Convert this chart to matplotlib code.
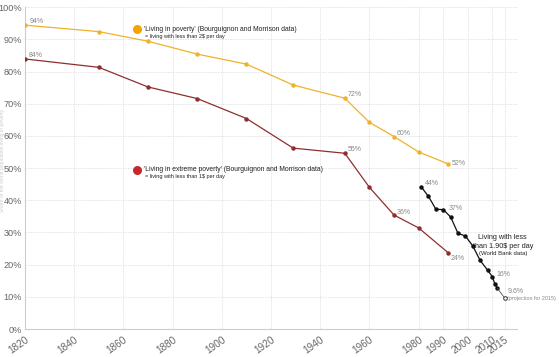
import matplotlib
matplotlib.use("Agg")
import matplotlib.pyplot as plt
from matplotlib.ticker import FuncFormatter

plt.rcParams["font.family"] = ["Liberation Sans", "DejaVu Sans"]

# Bourguignon and Morrison data
bm_years = [1820, 1850, 1870, 1890, 1910, 1929, 1950, 1960, 1970, 1980, 1992]
poverty = [94.4, 92.4, 89.4, 85.4, 82.3, 75.8, 71.7, 64.2, 59.8, 55.0, 51.3]
extreme = [83.9, 81.3, 75.2, 71.6, 65.4, 56.2, 54.6, 44.0, 35.4, 31.4, 23.7]

# World Bank data (< 1.90$ per day)
wb_years = [1981, 1984, 1987, 1990, 1993, 1996, 1999, 2002, 2005, 2008, 2010, 2011, 2012]
wb_values = [44.2, 41.2, 37.2, 37.1, 34.8, 29.7, 28.9, 25.8, 21.3, 18.3, 16.2, 13.9, 12.6]
proj_year = 2015
proj_value = 9.6

x_ticks = [1820, 1840, 1860, 1880, 1900, 1920, 1940, 1960, 1980, 1990, 2000, 2010, 2015]

yellow = "#efb22a"
red = "#8e2f2f"

fig = plt.figure(figsize=(5.59, 3.57), dpi=100)
ax = fig.add_axes([0.0447, 0.0784, 0.8803, 0.9016])

ax.plot(bm_years, poverty, color=yellow, lw=0.9, marker="o", ms=2.2, zorder=3)
ax.plot(bm_years, extreme, color=red, lw=0.9, marker="o", ms=2.2, zorder=3)
ax.plot(wb_years, wb_values, color="#111111", lw=0.9, marker="o", ms=2.2, zorder=3)
ax.plot([wb_years[-1], proj_year], [wb_values[-1], proj_value], color="#555555", lw=0.6, zorder=3)
ax.plot([proj_year], [proj_value], marker="o", ms=2.6, mfc="white", mec="#333333", mew=0.7, zorder=4)

ax.set_xlim(1820, 2020)
ax.set_ylim(0, 100)
ax.set_xticks(x_ticks)
ax.set_yticks(range(0, 101, 10))
ax.yaxis.set_major_formatter(FuncFormatter(lambda v, p: "%d%%" % v))
for lab in ax.get_xticklabels():
    lab.set_rotation(35)
    lab.set_ha("right")
    lab.set_rotation_mode("anchor")
ax.tick_params(axis="both", length=0, labelsize=6.6, colors="#666666", pad=2)
ax.tick_params(axis="x", labelsize=7.2, pad=4)
ax.grid(True, color="#dddddd", lw=0.6, ls=(0, (1.5, 1.5)))
ax.set_axisbelow(True)
for s in ["top", "right"]:
    ax.spines[s].set_visible(False)
for s in ["left", "bottom"]:
    ax.spines[s].set_color("#cccccc")
    ax.spines[s].set_linewidth(0.8)

# faint y label at the very left edge, as in the original
fig.text(0.0005, 0.55, "Share of the world population living in poverty", rotation=90,
         fontsize=3.6, color="#cccccc", ha="left", va="center")


def lab(txt, x, y, dx, dy, size=5):
    ax.annotate(txt, (x, y), xytext=(dx, dy), ha="left", va="center",
                textcoords="offset points", fontsize=size, color="#888888")


lab("94%", bm_years[0], poverty[0], 3, 2.5)
lab("84%", bm_years[0], extreme[0], 3, 2.5)
lab("72%", bm_years[6], poverty[6], 2, 2.5)
lab("60%", bm_years[8], poverty[8], 2, 2.5)
lab("52%", bm_years[10], poverty[10], 2.5, 0)
lab("55%", bm_years[6], extreme[6], 2, 2.5)
lab("36%", bm_years[8], extreme[8], 2, 2)
lab("24%", bm_years[10], extreme[10], 1.5, -4)
lab("44%", wb_years[0], wb_values[0], 2.5, 2)
lab("37%", wb_years[3], wb_values[3], 4, 0.5)
lab("16%", wb_years[10], wb_values[10], 3, 2)
lab("9.6%", proj_year, proj_value, 2, 5)
lab("(projection for 2015)", proj_year, proj_value, 1.5, 0, size=3.9)

# legend-like notes
ax.scatter([1865.5], [93.1], s=30, color="#f5a300", zorder=5, clip_on=False)
ax.text(1868.5, 93.1, "'Living in poverty' (Bourguignon and Morrison data)",
        fontsize=4.9, color="#222222", va="center")
ax.text(1868.8, 91.0, "= living with less than 2\\$ per day",
        fontsize=4.0, color="#222222", va="center")
ax.scatter([1865.5], [49.3], s=30, color="#c8282a", zorder=5, clip_on=False)
ax.text(1868.2, 49.5, "'Living in extreme poverty' (Bourguignon and Morrison data)",
        fontsize=4.9, color="#222222", va="center")
ax.text(1868.8, 47.3, "= living with less than 1\\$ per day",
        fontsize=4.0, color="#222222", va="center")

ax.text(2014.2, 28.3, "Living with less", fontsize=5.2,
        color="#222222", ha="center", va="center")
ax.text(2014.2, 25.5, "than 1.90\\$ per day", fontsize=5.2,
        color="#222222", ha="center", va="center")
ax.text(2014.2, 23.4, "(World Bank data)", fontsize=4.3, color="#222222",
        ha="center", va="center")

fig.savefig("out.png", dpi=100, facecolor="white")
